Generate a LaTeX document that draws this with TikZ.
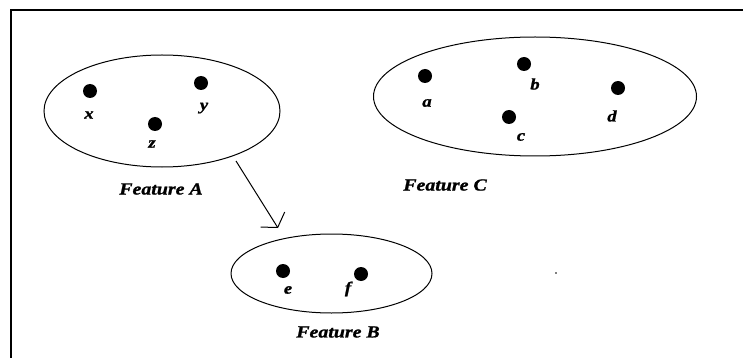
\documentclass[tikz,border=0pt]{standalone}
\usepackage{fontspec}
\usetikzlibrary{shapes.geometric,arrows.meta}
\newfontfamily\featfont[FakeStretch=1.17,FakeBold=1.2]{Liberation Serif}
\tikzset{
	blob/.style={ellipse,draw,line width=1pt,inner sep=0pt},
	dot/.style={circle,fill=black,inner sep=0pt,minimum size=14pt},
	lbl/.style={font=\fontsize{16}{18}\selectfont\featfont\bfseries\itshape,inner sep=0pt},
	feat/.style={font=\fontsize{17}{20}\selectfont\featfont\bfseries\itshape,inner sep=0pt},
	arr/.style={line width=1pt,-{Straight Barb[angle=113:17pt,line width=1pt]}}
}
\begin{document}
\begin{tikzpicture}[x=1pt,y=-1pt]
		\useasboundingbox (0,0) rectangle (743,358);
		\draw[line width=2pt] (11,358) -- (11,10) -- (743,10);
		% the three sets
		\node[blob,minimum width=236pt,minimum height=112pt] (A) at (162,111) {};
		\node[blob,minimum width=323pt,minimum height=119pt] (C) at (535,96.5) {};
		\node[blob,minimum width=201pt,minimum height=79pt] (B) at (331.5,273.5) {};
		\foreach \n/\p/\q in {x/{90,91}/{89,115},y/{201,83}/{204,108},z/{155,124}/{152,144},
			a/{425,76}/{427,103},b/{524,64}/{535,84},c/{509,117}/{521,137},d/{618,88}/{612,116},
			e/{283,271}/{288,290},f/{361,274}/{348,289}}
		{\node[dot] (\n) at (\p) {}; \node[lbl] (lbl\n) at (\q) {\n};}
		\node[feat] (fA) at (161,189) {Feature A};
		\node[feat] (fC) at (445,185) {Feature C};
		\node[feat] (fB) at (338,332) {Feature B};
		\path
		(236,161) coordinate (s)
		(278,228) coordinate (t);
		\draw[arr] (s) -- (t);
		\fill[gray] (555,272) rectangle (557,274);
\end{tikzpicture}
\end{document}
